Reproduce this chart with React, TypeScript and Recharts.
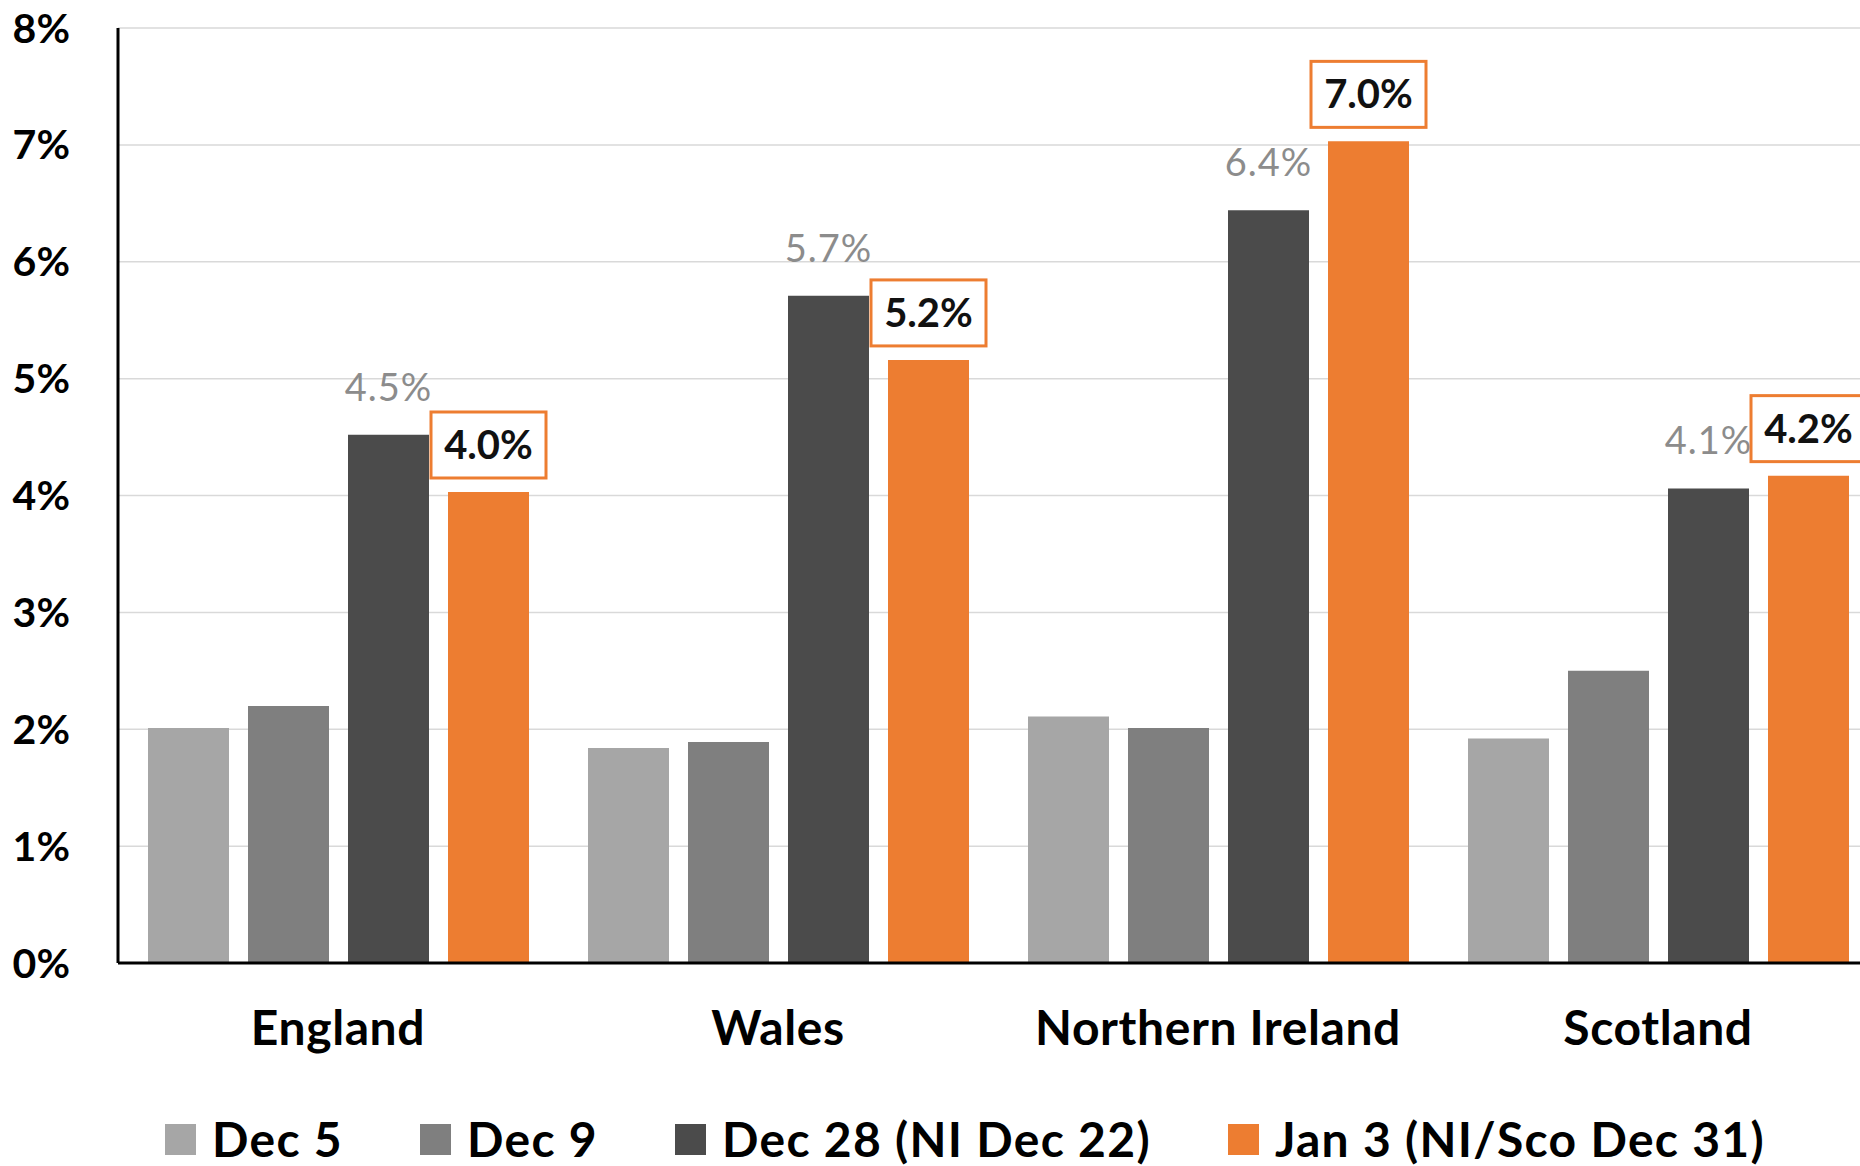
import React from 'react';
import { BarChart, Bar, XAxis, YAxis, CartesianGrid, Legend } from 'recharts';

const categories = ['England', 'Wales', 'Northern Ireland', 'Scotland'];
const dec5 = [2.01, 1.84, 2.11, 1.92];
const dec9 = [2.2, 1.89, 2.01, 2.5];
const dec28 = [4.52, 5.71, 6.44, 4.06];
const jan3 = [4.03, 5.16, 7.03, 4.17];
const yTicks = [0, 1, 2, 3, 4, 5, 6, 7, 8];

const seriesKeys = ['dec5', 'dec9', 'dec28', 'jan3'];
const seriesNames = ['Dec 5', 'Dec 9', 'Dec 28 (NI Dec 22)', 'Jan 3 (NI/Sco Dec 31)'];
const seriesColors = ['#a6a6a6', '#7f7f7f', '#4b4b4b', '#ed7d31'];

const data = categories.map((name, i) => ({
  name,
  dec5: dec5[i],
  dec9: dec9[i],
  dec28: dec28[i],
  jan3: jan3[i],
}));

const FONT = 'Lato, "Open Sans", sans-serif';

const GrayLabel = (props: any) => {
  const { x, y, width, value } = props;
  return (
    <text
      x={x + width / 2}
      y={y - 34}
      textAnchor="middle"
      fill="#8c8c8c"
      fontSize={38}
      letterSpacing={1}
      fontFamily={FONT}
    >
      {Number(value).toFixed(1)}%
    </text>
  );
};

const BoxLabel = (props: any) => {
  const { x, y, width, value } = props;
  const cx = x + width / 2;
  const w = 115;
  const h = 66;
  const top = y - 14 - h;
  return (
    <g>
      <rect x={cx - w / 2} y={top} width={w} height={h} fill="#fff" stroke="#ed7d31" strokeWidth={3} />
      <text
        x={cx}
        y={top + h / 2 + 14}
        textAnchor="middle"
        fill="#111"
        fontSize={40}
        fontWeight={700}
        fontFamily={FONT}
      >
        {Number(value).toFixed(1)}%
      </text>
    </g>
  );
};

const CategoryTick = (props: any) => {
  const { x, y, payload } = props;
  return (
    <text
      x={x}
      y={y + 80}
      textAnchor="middle"
      fill="#000"
      fontSize={48}
      letterSpacing={0.6}
      fontWeight={700}
      fontFamily={FONT}
    >
      {payload.value}
    </text>
  );
};

const renderLegend = () => (
  <div
    style={{
      display: 'flex',
      justifyContent: 'center',
      alignItems: 'center',
      fontFamily: FONT,
      fontWeight: 700,
      fontSize: 48,
      letterSpacing: 1.3,
      color: '#000',
      lineHeight: '40px',
    }}
  >
    {seriesNames.map((n, i) => (
      <div key={n} style={{ display: 'flex', alignItems: 'center', marginLeft: i ? 77 : 0 }}>
        <span style={{ width: 31, height: 31, background: seriesColors[i], marginRight: 16, display: 'inline-block' }} />
        <span>{n}</span>
      </div>
    ))}
  </div>
);

export default function App() {
  return (
    <div
      style={{
        position: 'absolute',
        left: 0,
        top: 0,
        width: 1860,
        height: 1166,
        overflow: 'hidden',
        background: '#fff',
      }}
    >
      <BarChart
        width={1878}
        height={1166}
        data={data}
        margin={{ top: 28, right: 0, bottom: 0, left: 0 }}
        barSize={81}
        barGap={19}
        style={{ fontFamily: FONT }}
      >
        <CartesianGrid vertical={false} stroke="#d9d9d9" strokeWidth={1.5} />
        <XAxis
          dataKey="name"
          height={203}
          interval={0}
          tickLine={false}
          tickSize={0}
          axisLine={{ stroke: '#000', strokeWidth: 3 }}
          tick={<CategoryTick />}
        />
        <YAxis
          width={118}
          domain={[0, 8]}
          ticks={yTicks}
          tickFormatter={(v: number) => `${v}%`}
          tickLine={false}
          tickSize={0}
          tickMargin={48}
          axisLine={{ stroke: '#000', strokeWidth: 3 }}
          tick={{ fill: '#000', fontSize: 41, fontWeight: 700, fontFamily: FONT }}
        />
        <Legend
          layout="horizontal"
          verticalAlign="middle"
          align="center"
          content={renderLegend}
          wrapperStyle={{ top: 1119, left: 0, width: 1930 }}
        />
        <Bar dataKey={seriesKeys[0]} name={seriesNames[0]} fill={seriesColors[0]} isAnimationActive={false} />
        <Bar dataKey={seriesKeys[1]} name={seriesNames[1]} fill={seriesColors[1]} isAnimationActive={false} />
        <Bar
          dataKey={seriesKeys[2]}
          name={seriesNames[2]}
          fill={seriesColors[2]}
          isAnimationActive={false}
          label={(p: any) => <GrayLabel {...p} />}
        />
        <Bar
          dataKey={seriesKeys[3]}
          name={seriesNames[3]}
          fill={seriesColors[3]}
          isAnimationActive={false}
          label={(p: any) => <BoxLabel {...p} />}
        />
      </BarChart>
    </div>
  );
}
